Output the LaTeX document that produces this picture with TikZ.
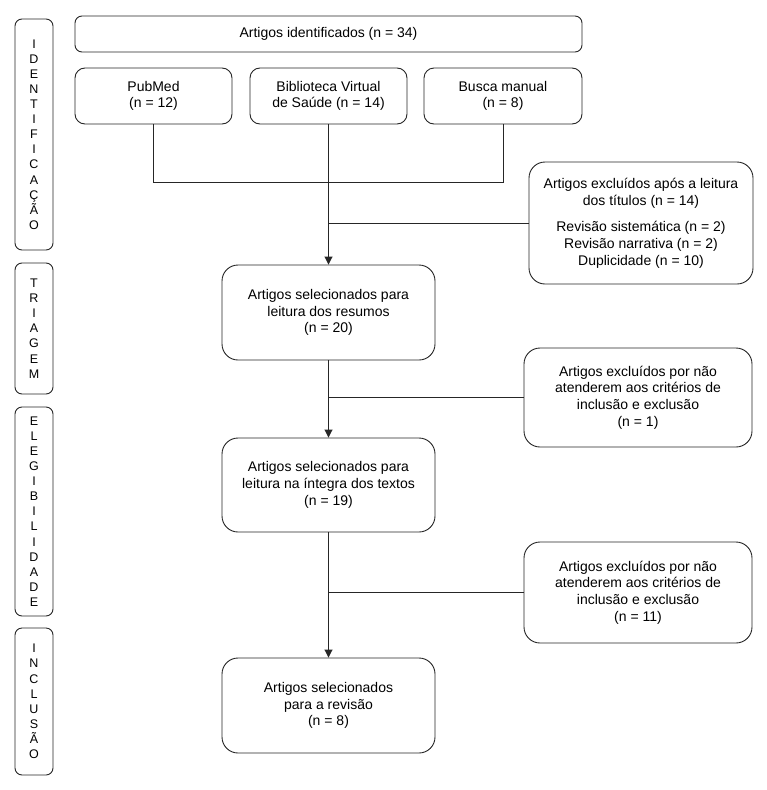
\documentclass[tikz,border=0pt]{standalone}
\usepackage{fontspec}
\setmainfont{Liberation Sans}
\usetikzlibrary{arrows.meta}
\begin{document}
\begin{tikzpicture}[x=1pt,y=-1pt,
  line/.style={draw=black!85,line width=0.9pt},
  box/.style={line,rounded corners=10pt,align=center,inner sep=2pt,
    font=\fontsize{14}{16.7}\selectfont,text=black},
  exbox/.style={box,rounded corners=16pt},
  side/.style={line,rounded corners=7pt,minimum width=38pt,align=center,
    inner sep=0pt,font=\fontsize{12.5}{15.1}\selectfont},
  arr/.style={line,-{Triangle[width=8pt,length=8pt]}}]
\useasboundingbox[fill=white] (0,0) rectangle (766,790);
% side labels
\node[side,minimum height=231pt] (s1) at (34,134.5) {I\\D\\E\\N\\T\\I\\F\\I\\C\\A\\Ç\\Ã\\O};
\node[side,minimum height=131pt] (s2) at (34,328.5) {T\\R\\I\\A\\G\\E\\M};
\node[side,minimum height=209pt] (s3) at (34,511.5) {E\\L\\E\\G\\I\\B\\I\\L\\I\\D\\A\\D\\E};
\node[side,minimum height=147pt] (s4) at (34,701.5) {I\\N\\C\\L\\U\\S\\Ã\\O};
% main boxes
\node[box,rounded corners=7pt,minimum width=507pt,minimum height=36pt] (top) at (328.5,34) {Artigos identificados (n = 34)};
\node[box,minimum width=157pt,minimum height=56pt] (pub) at (153.5,96) {PubMed\\(n = 12)};
\node[box,minimum width=157pt,minimum height=56pt] (bvs) at (328.5,96) {Biblioteca Virtual\\de Saúde (n = 14)};
\node[box,minimum width=158pt,minimum height=56pt] (busca) at (503,96) {Busca manual\\(n = 8)};
\node[exbox,minimum width=224pt,minimum height=122pt] (ex1) at (641,223) {Artigos excluídos após a leitura\\dos títulos (n = 14)\\[10pt]Revisão sistemática (n = 2)\\Revisão narrativa (n = 2)\\Duplicidade (n = 10)};
\node[exbox,minimum width=213pt,minimum height=95pt] (sel1) at (328.5,312.5) {Artigos selecionados para\\leitura dos resumos\\(n = 20)};
\node[exbox,minimum width=228pt,minimum height=99pt] (ex2) at (638,397.5) {Artigos excluídos por não\\atenderem aos critérios de\\inclusão e exclusão\\(n = 1)};
\node[exbox,minimum width=213pt,minimum height=94pt] (sel2) at (328.5,485) {Artigos selecionados para\\leitura na íntegra dos textos\\(n = 19)};
\node[exbox,minimum width=228pt,minimum height=101pt] (ex3) at (638,592.5) {Artigos excluídos por não\\atenderem aos critérios de\\inclusão e exclusão\\(n = 11)};
\node[exbox,minimum width=213pt,minimum height=95pt] (sel3) at (328.5,705.5) {Artigos selecionados\\para a revisão\\(n = 8)};
% connectors
\coordinate (jl) at (153.5,182);
\draw[line] (pub.south) -- (pub.south |- jl) -- (busca.south |- jl) -- (busca.south);
\draw[arr] (bvs.south) -- (sel1.north);
\draw[line] (ex1.west) -- (ex1.west -| bvs.south);
\draw[arr] (sel1.south) -- (sel2.north);
\draw[line] (ex2.west) -- (ex2.west -| sel1.south);
\draw[arr] (sel2.south) -- (sel3.north);
\draw[line] (ex3.west) -- (ex3.west -| sel2.south);
\end{tikzpicture}
\end{document}
